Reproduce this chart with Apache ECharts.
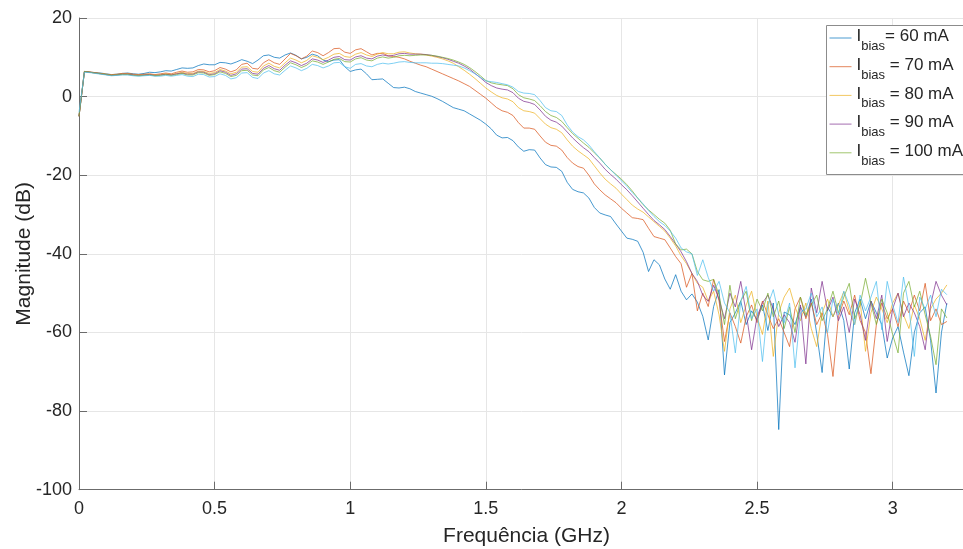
<!DOCTYPE html>
<html>
<head>
<meta charset="utf-8">
<title>Magnitude vs frequência</title>
<script src="https://cdn.jsdelivr.net/npm/echarts@6/dist/echarts.min.js"></script>
<style>
  html, body { margin: 0; padding: 0; background: #ffffff; }
  #chart { width: 963px; height: 549px; }
</style>
</head>
<body>
<div id="chart"></div>
<script>
// Frequency samples (GHz)
const freqGHz = [
  0, 0.02, 0.04, 0.06, 0.08, 0.1, 0.12, 0.14, 0.16, 0.18,
  0.2, 0.22, 0.24, 0.26, 0.28, 0.3, 0.32, 0.34, 0.36, 0.38,
  0.4, 0.42, 0.44, 0.46, 0.48, 0.5, 0.52, 0.54, 0.56, 0.58,
  0.6, 0.62, 0.64, 0.66, 0.68, 0.7, 0.72, 0.74, 0.76, 0.78,
  0.8, 0.82, 0.84, 0.86, 0.88, 0.9, 0.92, 0.94, 0.96, 0.98,
  1, 1.02, 1.04, 1.06, 1.08, 1.1, 1.12, 1.14, 1.16, 1.18,
  1.2, 1.22, 1.24, 1.26, 1.28, 1.3, 1.32, 1.34, 1.36, 1.38,
  1.4, 1.42, 1.44, 1.46, 1.48, 1.5, 1.52, 1.54, 1.56, 1.58,
  1.6, 1.62, 1.64, 1.66, 1.68, 1.7, 1.72, 1.74, 1.76, 1.78,
  1.8, 1.82, 1.84, 1.86, 1.88, 1.9, 1.92, 1.94, 1.96, 1.98,
  2, 2.02, 2.04, 2.06, 2.08, 2.1, 2.12, 2.14, 2.16, 2.18,
  2.2, 2.22, 2.24, 2.26, 2.28, 2.3, 2.32, 2.34, 2.36, 2.38,
  2.4, 2.42, 2.44, 2.46, 2.48, 2.5, 2.52, 2.54, 2.56, 2.58,
  2.6, 2.62, 2.64, 2.66, 2.68, 2.7, 2.72, 2.74, 2.76, 2.78,
  2.8, 2.82, 2.84, 2.86, 2.88, 2.9, 2.92, 2.94, 2.96, 2.98,
  3, 3.02, 3.04, 3.06, 3.08, 3.1, 3.12, 3.14, 3.16, 3.18,
  3.2
];

// Measured magnitude (dB) for each bias current
const mag60mA = [
  -5.0, 6.4, 6.2, 6.1, 6.0, 5.8, 5.6, 5.7, 5.9, 6.0,
  5.8, 5.7, 5.9, 6.2, 6.1, 6.3, 6.6, 6.5, 6.9, 7.3,
  7.2, 7.3, 7.9, 8.3, 8.1, 8.1, 8.7, 8.6, 8.3, 8.8,
  9.4, 9.0, 8.4, 9.3, 10.4, 10.6, 10.0, 9.8, 10.6, 11.1,
  10.5, 9.6, 10.0, 10.8, 10.4, 9.3, 8.9, 9.3, 9.4, 7.6,
  6.4, 6.8, 7.0, 5.8, 4.3, 4.4, 4.5, 3.4, 2.3, 2.2,
  2.4, 2.0, 1.3, 0.9, 0.5, 0.1, -0.5, -1.2, -2.0, -2.8,
  -3.2, -3.6, -4.4, -5.2, -6.0, -7.0, -8.2, -9.8, -10.5, -10.4,
  -11.2, -12.8, -13.9, -13.5, -13.6, -15.6, -17.3, -17.9, -18.0, -19.0,
  -21.8, -23.6, -24.2, -24.5, -25.8, -28.2, -29.6, -30.1, -30.5, -32.4,
  -34.2, -36.0, -36.3, -36.8, -39.6, -44.5, -41.5, -42.8, -46.4, -49.0,
  -45.3, -49.5, -51.7, -50.2, -52.3, -55.9, -61.9, -53.4, -49.1, -70.8,
  -57.5, -55.0, -52.0, -58.0, -54.5, -56.8, -53.0, -59.5, -52.5, -84.7,
  -54.8, -55.5, -58.0, -53.5, -56.0, -51.5, -60.2, -70.2, -53.5, -56.0,
  -52.5, -57.0, -69.3, -55.0, -51.5, -56.5, -52.0, -55.0, -58.0, -66.5,
  -61.4, -58.5, -65.0, -71.0, -60.0, -55.0, -53.5, -62.0, -75.4, -60.0,
  -52.5
];
const mag70mA = [
  -5.0, 6.4, 6.3, 6.1, 5.9, 5.7, 5.6, 5.7, 5.9, 5.9,
  5.7, 5.6, 5.7, 5.8, 5.6, 5.8, 6.0, 5.8, 6.2, 6.5,
  6.2, 6.3, 6.9, 6.8, 6.3, 6.6, 7.4, 7.0, 6.3, 6.8,
  8.2, 8.5, 7.2, 7.0, 8.6, 9.4, 8.6, 8.2, 9.6, 11.0,
  10.4, 9.6, 10.3, 11.6, 11.2, 10.4, 11.2, 12.2, 12.3, 11.3,
  11.0, 11.9, 12.2, 11.4, 10.6, 11.0, 11.0, 10.4, 10.2, 10.0,
  9.6, 9.0, 8.5, 8.0, 7.6, 7.0, 6.4, 5.8, 5.2, 4.6,
  4.0, 3.3, 2.6, 1.6, 0.6, -0.4, -1.6, -2.8, -3.6, -4.0,
  -4.8, -6.6, -8.0, -8.0, -8.3, -10.0, -11.6, -12.4, -12.6, -13.6,
  -15.5, -16.9, -17.8, -18.2, -20.0, -22.2, -23.7, -25.0, -26.0, -27.0,
  -28.4, -29.6, -30.8, -31.0, -31.3, -33.5, -35.6, -36.0, -36.4, -38.5,
  -40.7, -42.5, -48.5, -45.0, -54.5, -50.0, -53.4, -46.5, -52.0, -62.3,
  -55.0, -58.5, -62.7, -56.0, -53.0, -57.5, -52.0, -55.5, -59.0, -56.5,
  -60.0, -63.6, -54.0, -51.0, -56.5, -52.5, -58.0, -55.0, -60.5, -71.2,
  -56.0, -52.0, -55.5, -50.5, -57.0, -60.0, -70.5, -58.0, -52.5, -56.5,
  -54.0, -58.5, -52.0, -55.0, -50.5, -54.5, -47.5, -57.0, -54.0, -58.0,
  -57.2
];
const mag80mA = [
  -5.0, 6.4, 6.2, 6.0, 5.9, 5.7, 5.5, 5.6, 5.8, 5.8,
  5.6, 5.5, 5.6, 5.7, 5.5, 5.6, 5.8, 5.6, 5.9, 6.2,
  5.9, 5.9, 6.5, 6.4, 5.9, 6.1, 6.9, 6.5, 5.8, 6.2,
  7.5, 7.6, 6.4, 6.2, 7.8, 8.5, 7.7, 7.3, 8.6, 9.8,
  9.3, 8.6, 9.2, 10.4, 10.0, 9.4, 10.0, 10.8, 11.0, 10.2,
  10.0, 10.8, 11.2, 10.6, 10.2, 10.8, 11.2, 10.9, 10.9, 11.3,
  11.4, 11.1, 10.9, 10.8, 10.6, 10.3, 10.0, 9.6, 9.1, 8.5,
  7.6, 6.7, 5.7, 4.6, 3.4, 2.2, 1.2, 0.3, -0.3, -0.6,
  -1.3, -2.8, -3.6, -3.8, -4.2, -5.6, -7.0, -7.9, -8.3, -9.2,
  -11.0, -12.6, -13.8, -14.8, -15.8, -17.6, -19.4, -21.0, -22.2, -23.3,
  -24.8, -26.2, -27.6, -28.6, -29.4, -30.6, -31.8, -33.0, -34.2, -36.0,
  -38.0, -40.5, -42.5, -45.0, -47.5, -48.5, -52.0, -49.5, -55.5, -64.8,
  -54.0, -50.5, -57.5, -53.0, -49.5, -56.0, -60.5, -52.0, -66.1, -55.0,
  -51.0, -48.7, -53.5, -57.0, -52.5, -59.0, -63.6, -55.0, -51.5, -56.0,
  -53.0, -49.6, -54.5, -58.0, -52.0, -64.8, -55.0, -51.0, -54.0, -57.5,
  -52.5, -50.0, -55.5, -59.0, -53.0, -56.5, -62.0, -54.0, -51.5, -50.0,
  -47.9
];
const mag90mA = [
  -5.0, 6.4, 6.2, 6.0, 5.8, 5.6, 5.4, 5.5, 5.7, 5.7,
  5.5, 5.4, 5.5, 5.6, 5.4, 5.5, 5.7, 5.5, 5.8, 6.0,
  5.7, 5.7, 6.3, 6.2, 5.6, 5.8, 6.6, 6.2, 5.4, 5.8,
  7.0, 7.1, 5.9, 5.7, 7.2, 7.9, 7.1, 6.7, 8.0, 9.1,
  8.6, 7.9, 8.5, 9.6, 9.3, 8.7, 9.3, 10.0, 10.2, 9.4,
  9.3, 10.1, 10.4, 9.8, 9.6, 10.3, 10.6, 10.3, 10.5, 10.9,
  11.0, 10.8, 10.8, 10.8, 10.7, 10.5, 10.2, 9.9, 9.5, 9.0,
  8.5, 7.8, 7.0, 5.9, 4.8, 3.6, 2.8, 2.2, 1.9, 1.7,
  1.0, -0.4, -1.2, -1.5, -2.0, -3.4, -5.0, -6.0, -6.5, -7.5,
  -9.0, -10.5, -11.8, -13.0, -14.0, -15.5, -16.9, -18.5, -19.8, -21.0,
  -22.4, -23.7, -25.2, -26.8, -28.4, -30.0, -31.5, -32.6, -33.8, -35.6,
  -37.5, -39.5, -42.0, -45.0, -47.0, -50.5, -52.1, -48.0, -51.5, -56.5,
  -50.0, -53.5, -47.0, -55.0, -64.4, -56.0, -52.5, -50.5, -54.0, -58.5,
  -55.5, -57.5, -62.5, -53.0, -68.0, -48.7, -55.0, -47.0, -54.5, -51.0,
  -57.0, -53.5, -60.0, -51.5, -55.5, -62.0, -52.0, -56.5, -50.5, -62.3,
  -54.0, -50.0, -56.0, -52.5, -55.0, -58.5, -64.4, -53.0, -47.0, -50.5,
  -53.0
];
const mag100mA = [
  -5.0, 6.4, 6.2, 6.0, 5.8, 5.6, 5.4, 5.5, 5.6, 5.6,
  5.4, 5.3, 5.4, 5.5, 5.3, 5.4, 5.6, 5.4, 5.6, 5.9,
  5.5, 5.5, 6.1, 6.0, 5.4, 5.6, 6.3, 5.9, 5.1, 5.4,
  6.6, 6.7, 5.5, 5.3, 6.8, 7.4, 6.6, 6.2, 7.5, 8.6,
  8.1, 7.4, 8.0, 9.1, 8.8, 8.2, 8.8, 9.5, 9.7, 8.9,
  8.8, 9.6, 9.9, 9.3, 9.1, 9.8, 10.1, 9.8, 10.0, 10.4,
  10.5, 10.4, 10.5, 10.6, 10.6, 10.5, 10.3, 10.0, 9.7, 9.3,
  8.8, 8.2, 7.4, 6.4, 5.3, 4.1, 3.5, 3.2, 3.0, 2.8,
  2.0, 0.5, -0.3, -0.6, -1.0, -2.3, -3.8, -4.8, -5.3, -6.3,
  -7.9, -9.4, -10.6, -11.8, -12.9, -14.3, -15.6, -17.2, -18.6, -19.8,
  -21.0, -22.4, -24.0, -25.8, -27.5, -28.8, -30.0, -31.2, -32.2, -34.0,
  -37.5, -39.0, -38.8, -40.0, -44.5, -46.6, -47.0, -46.5, -50.5, -58.0,
  -48.0, -56.5, -52.0, -49.5, -57.0, -51.5, -54.5, -50.0, -56.0, -52.0,
  -59.0, -53.5, -60.0, -51.0, -55.5, -53.0, -50.5, -57.0, -54.0, -49.5,
  -55.0, -51.0, -47.5, -56.5, -53.0, -46.2, -52.5, -58.0, -51.5, -55.0,
  -60.5, -65.2, -50.0, -47.0, -53.5, -49.5, -55.5, -61.0, -68.2, -54.0,
  -56.3
];
const mag110mA = [
  -4.0, 6.2, 6.1, 5.9, 5.7, 5.5, 5.3, 5.4, 5.5, 5.5,
  5.3, 5.2, 5.3, 5.4, 5.2, 5.2, 5.4, 5.2, 5.4, 5.6,
  5.2, 5.1, 5.7, 5.6, 5.0, 5.1, 5.8, 5.4, 4.5, 4.8,
  6.0, 6.1, 4.9, 4.6, 6.0, 6.6, 5.8, 5.5, 6.7, 7.8,
  7.3, 6.6, 7.2, 8.2, 7.9, 7.3, 7.8, 8.6, 8.7, 7.6,
  7.2, 8.2, 8.4, 7.8, 7.6, 8.2, 8.5, 8.3, 8.5, 8.8,
  8.9, 8.7, 8.6, 8.6, 8.6, 8.5, 8.5, 8.4, 8.2, 8.0,
  7.8, 7.3, 6.6, 5.8, 4.9, 4.0, 3.8, 3.6, 3.3, 3.0,
  2.4, 1.3, 0.9, 0.8, 0.5, -1.0, -2.8, -3.6, -3.8, -4.8,
  -7.2, -9.0, -10.2, -11.0, -12.3, -14.0, -15.6, -17.2, -18.6, -20.0,
  -21.4, -22.8, -24.4, -25.8, -27.3, -29.0, -30.5, -31.8, -32.8, -34.2,
  -36.0, -38.5, -39.5, -40.0, -45.5, -41.5, -46.0, -49.5, -47.0, -52.5,
  -55.0, -65.2, -52.0, -48.3, -56.5, -54.0, -67.4, -53.0, -49.1, -55.5,
  -57.5, -52.5, -69.0, -55.0, -54.0, -50.0, -56.0, -53.5, -60.0, -51.5,
  -55.5, -49.5, -53.0, -58.0, -50.5, -54.5, -51.0, -47.0, -59.3, -47.0,
  -53.0, -57.5, -45.9, -53.5, -66.1, -51.0, -54.0, -50.5, -56.0, -49.0,
  -50.4
];

const biasCurrents = ['60 mA', '70 mA', '80 mA', '90 mA', '100 mA', '110 mA'];
const legendTails = ['= 60 mA', ' = 70 mA', ' = 80 mA', ' = 90 mA', ' = 100 mA'];
const seriesColors = ['#0072BD', '#D95319', '#EDB120', '#7E2F8E', '#77AC30', '#4DBEEE'];
const yTicks = [-100, -80, -60, -40, -20, 0, 20];

const magnitudes = [mag60mA, mag70mA, mag80mA, mag90mA, mag100mA, mag110mA];
const FONT = '"Liberation Sans", Arial, Helvetica, sans-serif';
const seriesName = (i) => 'Ibias = ' + biasCurrents[i];

const series = magnitudes.map((vals, i) => ({
  name: seriesName(i),
  type: 'line',
  data: freqGHz.map((f, k) => [f, vals[k]]),
  symbol: 'none',
  showSymbol: false,
  lineStyle: { width: 1, color: seriesColors[i], opacity: 0.72 },
  itemStyle: { color: seriesColors[i], opacity: 0.72 },
  emphasis: { disabled: true },
  z: 2 + i
}));

const legendNames = legendTails.map((_, i) => seriesName(i));

const chart = echarts.init(document.getElementById('chart'), null, { renderer: 'canvas' });
chart.setOption({
  animation: false,
  backgroundColor: '#ffffff',
  textStyle: { fontFamily: FONT },
  grid: { left: 79, top: 18, width: 895, height: 471.7, containLabel: false, outerBoundsMode: 'none' },
  // legend frame (runs past the right edge of the canvas)
  graphic: [{
    type: 'rect',
    left: 826, top: 25,
    shape: { width: 170, height: 149 },
    style: { fill: '#ffffff', stroke: '#8c8c8c', lineWidth: 1 },
    z: 90
  }],
  xAxis: {
    type: 'value',
    min: 0,
    max: 3.3,
    interval: 0.5,
    name: 'Frequência (GHz)',
    nameLocation: 'middle',
    nameGap: 36,
    nameMoveOverlap: false,
    nameTextStyle: { fontSize: 21, color: '#262626', fontFamily: FONT },
    axisLine: { show: true, onZero: false, lineStyle: { color: '#6b6b6b', width: 1 } },
    axisTick: { show: true, inside: true, length: 8, lineStyle: { color: '#6b6b6b', width: 1 } },
    axisLabel: { fontSize: 18, color: '#262626', margin: 10, fontFamily: FONT, showMaxLabel: false },
    splitLine: { show: true, lineStyle: { color: '#e6e6e6', width: 1 } }
  },
  yAxis: {
    type: 'value',
    min: yTicks[0],
    max: yTicks[yTicks.length - 1],
    interval: 20,
    name: 'Magnitude (dB)',
    nameLocation: 'middle',
    nameGap: 44,
    nameMoveOverlap: false,
    nameTextStyle: { fontSize: 21, color: '#262626', fontFamily: FONT },
    axisLine: { show: true, lineStyle: { color: '#6b6b6b', width: 1 } },
    axisTick: { show: true, inside: true, length: 8, lineStyle: { color: '#6b6b6b', width: 1 } },
    axisLabel: { fontSize: 18, color: '#262626', margin: 7, fontFamily: FONT },
    splitLine: { show: true, lineStyle: { color: '#e6e6e6', width: 1 } }
  },
  legend: {
    data: legendNames,
    orient: 'vertical',
    left: 826,
    top: 25,
    z: 95,
    padding: [3, 30, 1, 3],
    itemGap: 3.7,
    itemWidth: 22,
    itemHeight: 2,
    backgroundColor: 'transparent',
    borderWidth: 0,
    selectedMode: false,
    lineStyle: { width: 1, opacity: 0.7 },
    itemStyle: { opacity: 0 },
    formatter: (name) => {
      const i = legendNames.indexOf(name);
      return '{m|I}{s|bias}{m|' + legendTails[i] + '}';
    },
    textStyle: {
      fontFamily: FONT,
      color: '#262626',
      rich: {
        m: { fontSize: 17, lineHeight: 20, verticalAlign: 'top', color: '#262626', fontFamily: FONT },
        s: { fontSize: 13, lineHeight: 14, padding: [12, 0, 0, 0], verticalAlign: 'top', color: '#262626', fontFamily: FONT }
      }
    }
  },
  series: series
});
</script>
</body>
</html>
